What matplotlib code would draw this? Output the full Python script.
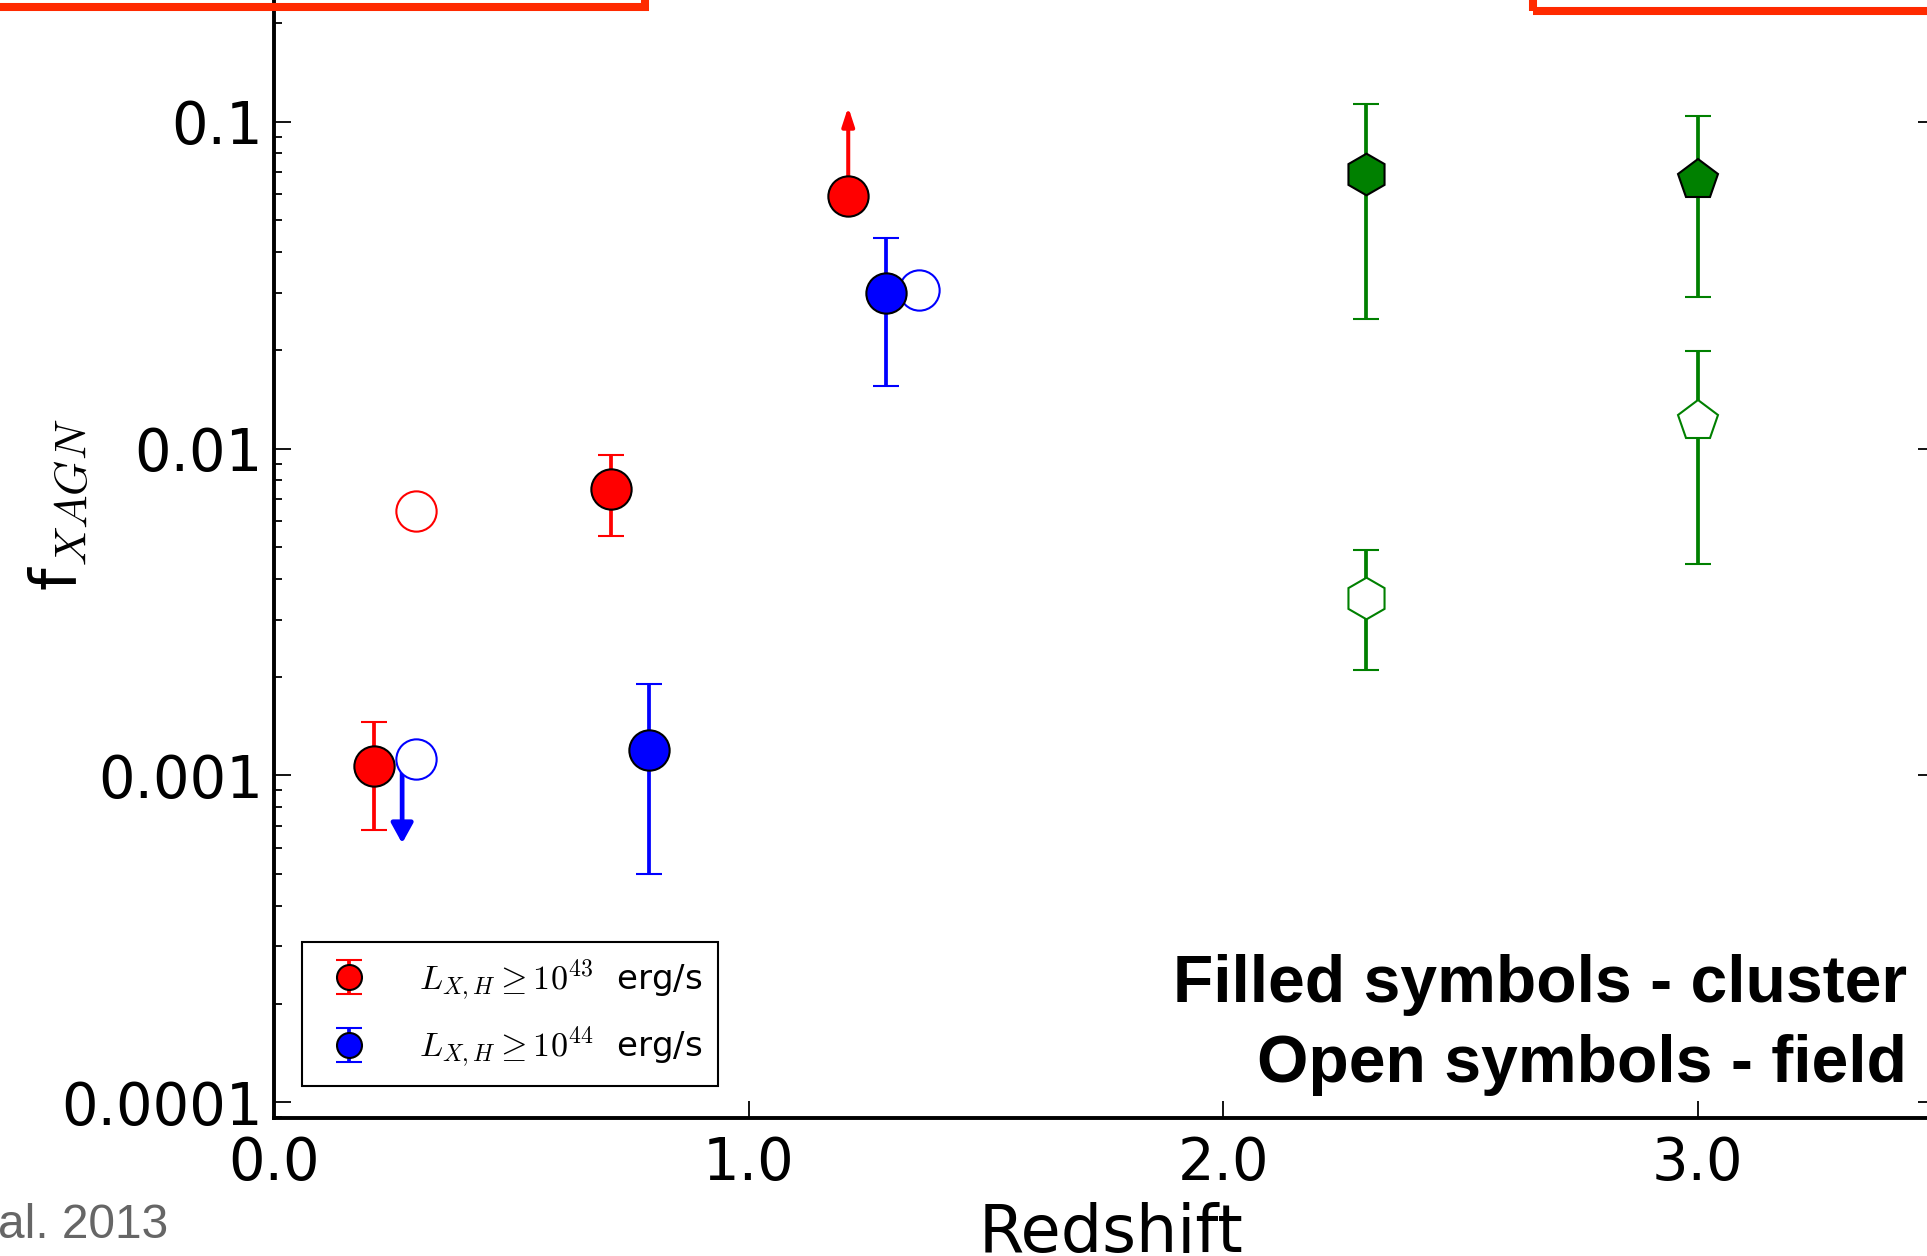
import numpy as np
import matplotlib
matplotlib.use("Agg")
import matplotlib.pyplot as plt
from matplotlib.patches import Rectangle
from matplotlib.ticker import LogLocator, NullFormatter

plt.rcParams['font.family'] = ['DejaVu Sans']
plt.rcParams['mathtext.fontset'] = 'cm'

# cluster members, L_X,H >= 1e43 erg/s (filled red)
z_red = [0.21, 0.71]
f_red = [0.00107, 0.00751]
f_red_lo = [0.00068, 0.0054]
f_red_hi = [0.00146, 0.00957]

# cluster lower limit, L_X,H >= 1e43
z_red_lim = [1.21]
f_red_lim = [0.0593]
f_red_lim_end = [0.111]

# field, L_X,H >= 1e43 (open red)
z_red_field = [0.30]
f_red_field = [0.00643]

# cluster members, L_X,H >= 1e44 (filled blue)
z_blue = [0.79, 1.29]
f_blue = [0.00120, 0.0299]
f_blue_lo = [0.00050, 0.01556]
f_blue_hi = [0.00190, 0.0440]

# cluster upper limit, L_X,H >= 1e44
z_blue_lim = [0.27]
f_blue_lim = [0.00112]
f_blue_lim_end = [0.00062]

# field, L_X,H >= 1e44 (open blue)
z_blue_field = [0.30, 1.36]
f_blue_field = [0.00112, 0.0305]

# high-z protoclusters (filled green) and field (open green)
z_green = [2.30, 3.00]
green_markers = ['h', 'p']
f_green = [0.0692, 0.0664]
f_green_lo = [0.0250, 0.0290]
f_green_hi = [0.1133, 0.1043]
f_green_field = [0.00349, 0.01216]
f_green_field_lo = [0.00210, 0.00443]
f_green_field_hi = [0.00489, 0.01992]

ytick_vals = [1e-4, 1e-3, 1e-2, 1e-1]
ytick_labels = ['0.0001', '0.001', '0.01', '0.1']
xtick_vals = [0.0, 1.0, 2.0, 3.0]
xtick_labels = ['0.0', '1.0', '2.0', '3.0']

W, H = 1927, 1256
fig = plt.figure(figsize=(W / 100, H / 100), dpi=100)
ax = fig.add_axes([274 / W, 138 / H, 1661 / W, 1323.1 / H])
ax.set_yscale('log')
ax.set_xlim(0, 3.5)
ax.set_ylim(10 ** -4.048, 1.0)

eb = dict(elinewidth=2.7, capsize=9.4, capthick=1.6, ms=29, mew=1.5,
          mec='black', linestyle='none')

# open symbols first so the filled ones sit on top
ax.plot(z_red_field, f_red_field, 'o', ms=29, mfc='white', mec='red', mew=1.5, zorder=4)

for z, f, end in zip(z_blue_lim, f_blue_lim, f_blue_lim_end):
    ax.annotate('', xy=(z, end), xytext=(z, f),
                arrowprops=dict(arrowstyle='-|>,head_length=0.6,head_width=0.33',
                                color='blue', lw=3.4, mutation_scale=20,
                                shrinkA=0, shrinkB=0), zorder=3)
ax.plot(z_blue_field, f_blue_field, 'o', ms=29, mfc='white', mec='blue', mew=1.5, zorder=4)

for z, f, end in zip(z_red_lim, f_red_lim, f_red_lim_end):
    ax.annotate('', xy=(z, end), xytext=(z, f),
                arrowprops=dict(arrowstyle='-|>,head_length=0.55,head_width=0.18',
                                color='red', lw=2.9, mutation_scale=20,
                                shrinkA=0, shrinkB=0), zorder=3)
ax.plot(z_red_lim, f_red_lim, 'o', ms=29, mfc='red', mec='black', mew=1.5, zorder=5)

red_err = [np.array(f_red) - np.array(f_red_lo), np.array(f_red_hi) - np.array(f_red)]
h_red = ax.errorbar(z_red, f_red, yerr=red_err, fmt='o', color='red', mfc='red',
                    zorder=5, **eb)

blue_err = [np.array(f_blue) - np.array(f_blue_lo), np.array(f_blue_hi) - np.array(f_blue)]
h_blue = ax.errorbar(z_blue, f_blue, yerr=blue_err, fmt='o', color='blue', mfc='blue',
                     zorder=5, **eb)

for i in range(len(z_green)):
    ax.errorbar([z_green[i]], [f_green_field[i]],
                yerr=[[f_green_field[i] - f_green_field_lo[i]],
                      [f_green_field_hi[i] - f_green_field[i]]],
                fmt=green_markers[i], color='green', mfc='white', mec='green',
                elinewidth=2.7, capsize=9.4, capthick=1.6, ms=30, mew=1.5, zorder=4)
    ax.errorbar([z_green[i]], [f_green[i]],
                yerr=[[f_green[i] - f_green_lo[i]], [f_green_hi[i] - f_green[i]]],
                fmt=green_markers[i], color='green', mfc='green', mec='black',
                elinewidth=2.7, capsize=9.4, capthick=1.6, ms=30, mew=1.5, zorder=5)

# axes styling
for side in ['left', 'bottom', 'right', 'top']:
    ax.spines[side].set_linewidth(2.8)
ax.set_xticks(xtick_vals)
ax.set_xticklabels(xtick_labels)
ax.set_yticks(ytick_vals)
ax.set_yticklabels(ytick_labels)
ax.yaxis.set_minor_locator(LogLocator(base=10, subs=np.arange(2, 10)))
ax.yaxis.set_minor_formatter(NullFormatter())
ax.tick_params(which='major', direction='in', length=12, width=1.3,
               labelsize=41.5, right=True, top=True)
ax.tick_params(which='minor', direction='in', length=5.8, width=1.3, right=True)
ax.tick_params(axis='x', which='major', pad=12)
ax.tick_params(axis='y', which='major', pad=8)

leg = ax.legend([h_red, h_blue],
                [r'$L_{X,H} \geq 10^{43}$  erg/s', r'$L_{X,H} \geq 10^{44}$  erg/s'],
                loc='lower left', bbox_to_anchor=(0.0167, 0.0244), borderaxespad=0,
                numpoints=1, markerscale=0.62, fontsize=24.5, fancybox=False,
                framealpha=1, edgecolor='black', borderpad=0.45, handlelength=1.9,
                handletextpad=1.1, labelspacing=0.65)
leg.get_frame().set_linewidth(1.5)

fig.text(59 / W, 1 - 505 / H, r'f$_{XAGN}$', rotation=90, ha='center', va='center',
         fontsize=46)
fig.text(1111 / W, 1 - 1251.7 / H, 'Redshift', ha='center', va='baseline', fontsize=47)

fig.text(1907 / W, 1 - 1001.7 / H, 'Filled symbols - cluster', ha='right',
         va='baseline', fontsize=47.5, fontweight='bold', family='Liberation Sans')
fig.text(1907 / W, 1 - 1081.7 / H, 'Open symbols - field', ha='right',
         va='baseline', fontsize=47.5, fontweight='bold', family='Liberation Sans')

fig.text(-2 / W, 1 - 1238 / H, 'al. 2013', ha='left', va='baseline', fontsize=34.5,
         color='#666666', family='Liberation Sans')

# slide frame boxes along the top edge
box_red = '#ff2a00'
fig.add_artist(Rectangle((-0.05, 1 - 6.7 / H), 0.05 + 645 / W, 0.2, transform=fig.transFigure,
                         fill=False, edgecolor=box_red, lw=5.8, clip_on=False))
fig.add_artist(Rectangle((1533 / W, 1 - 11 / H), 0.3, 0.2, transform=fig.transFigure,
                         fill=False, edgecolor=box_red, lw=5.8, clip_on=False))

fig.savefig('out.png', dpi=100)
